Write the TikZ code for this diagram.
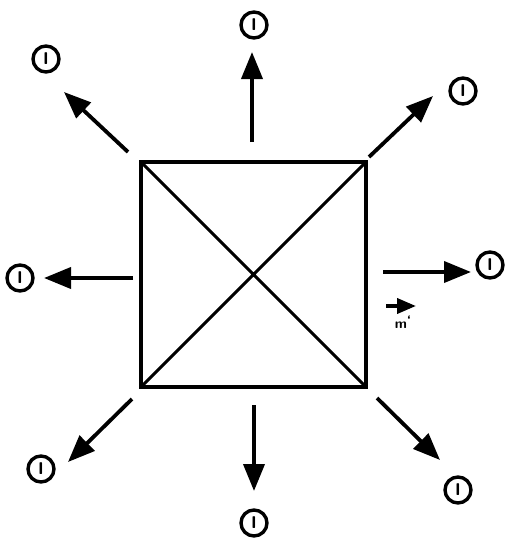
\documentclass[tikz,border=0pt]{standalone}
\usetikzlibrary{arrows.meta}
\begin{document}
\begin{tikzpicture}[x=1pt,y=-1pt,
  flow/.style={line width=3.8pt,-{Triangle[length=27pt,width=21pt]}},
  lbl/.style={circle,draw,line width=3.4pt,minimum size=26pt,inner sep=0pt,font=\sffamily\bfseries\fontsize{17}{17}\selectfont},
  box/.style={draw,line width=3.6pt}]
\useasboundingbox (0,0) rectangle (518,547);
% square
\coordinate (A) at (141,162);
\coordinate (B) at (366,162);
\coordinate (C) at (366,387);
\coordinate (D) at (141,387);
\draw[box] (A) -- (B) -- (C) -- (D) -- cycle;
\draw[line width=3pt] (A) -- (C) (B) -- (D);
% labels
\node[lbl] (lt) at (254,25) {I};
\node[lbl] (ltl) at (46,59) {I};
\node[lbl] (ltr) at (463,91) {I};
\node[lbl] (ll) at (20,278) {I};
\node[lbl] (lr) at (490,265) {I};
\node[lbl] (lbl) at (41,469) {I};
\node[lbl] (lb) at (254,523) {I};
\node[lbl] (lbr) at (458,490) {I};
% arrow tails and tips
\coordinate (tT) at (252,142); \coordinate (hT) at (252,52);
\coordinate (tTL) at (128,152); \coordinate (hTL) at (64,92);
\coordinate (tTR) at (369,157); \coordinate (hTR) at (433,96);
\coordinate (tL) at (133,278); \coordinate (hL) at (44,278);
\coordinate (tR) at (383,272); \coordinate (hR) at (471,272);
\coordinate (tBL) at (132,399); \coordinate (hBL) at (68,462);
\coordinate (tB) at (254,405); \coordinate (hB) at (254,491);
\coordinate (tBR) at (377,398); \coordinate (hBR) at (440,460);
\foreach \a in {T,TL,TR,L,R,BL,B,BR}{\draw[flow] (t\a) -- (h\a);}
% small arrow with m
\coordinate (sa) at (386,306);
\coordinate (sb) at (416,306);
\draw[line width=3.8pt,-{Triangle[length=19pt,width=15pt]}] (sa) -- (sb);
\node[font=\sffamily\bfseries\fontsize{14}{14}\selectfont,inner sep=0pt] (m) at (403,322) {m\raisebox{3pt}{`}};
\end{tikzpicture}
\end{document}
